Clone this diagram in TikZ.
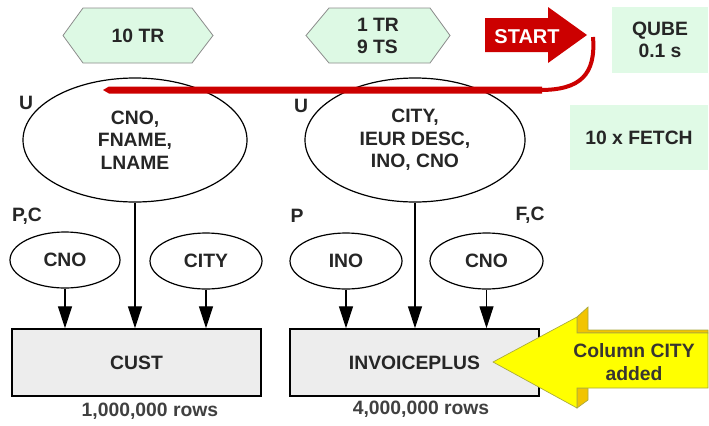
\documentclass[tikz,border=0pt]{standalone}
\usepackage{fontspec}
\setmainfont{Liberation Sans}
\usetikzlibrary{arrows.meta,shapes.geometric}
\definecolor{mint}{HTML}{E0FAE6}
\definecolor{hexg}{HTML}{DDF9E4}
\definecolor{redc}{HTML}{CC0000}
\definecolor{yel}{HTML}{FFFF00}
\definecolor{yelside}{HTML}{F2C400}
\definecolor{yeledge}{HTML}{A8A840}
\begin{document}
\begin{tikzpicture}[x=0.75pt,y=-0.75pt,
  lbl/.style={font=\fontsize{14.5}{17}\selectfont\bfseries, text=black!85},
  oval/.style={ellipse, draw=black, line width=0.9pt, fill=white, inner sep=0pt, lbl, align=center},
  tbl/.style={rectangle, draw=black, line width=1.1pt, fill=black!7, inner sep=0pt, lbl},
  hexshape/.style={fill=hexg, draw=black!45, line width=0.6pt},
  greenbox/.style={rectangle, fill=mint, inner sep=0pt, lbl, align=center},
  arr/.style={-{Triangle[width=10.5pt,length=16.5pt]}, line width=0.9pt}
]
\useasboundingbox[fill=white] (0,0) rectangle (709,425);

% hexagons
\draw[hexshape] (63,35.5) -- (83,8) -- (192,8) -- (213,35.5) -- (192,63) -- (83,63) -- cycle;
\node[lbl] (h1) at (138,36) {10 TR};
\draw[hexshape] (306,35.5) -- (329,8) -- (430,8) -- (450,35.5) -- (430,63) -- (329,63) -- cycle;
\node[lbl, align=left] (h2) at (378,36) {1 TR\\9 TS};

% green boxes
\node[greenbox, minimum width=72pt, minimum height=49.5pt] (qube) at (660,40) {QUBE\\0.1 s};
\node[greenbox, minimum width=103.5pt, minimum height=48.75pt] (fetch) at (639,137.5) {10 x FETCH};

% START arrow
\fill[redc] (485,18) -- (548,18) -- (548,7) -- (587,35) -- (548,63) -- (548,52) -- (485,52) -- cycle;
\node[font=\fontsize{15}{17}\selectfont\bfseries, text=white] (start) at (527,36.5) {START};

% big ellipses
\node[oval, minimum width=168pt, minimum height=93pt] (e1) at (135,140) {CNO,\\FNAME,\\LNAME};
\node[oval, minimum width=165pt, minimum height=93pt] (e2) at (415,140) {CITY,\\IEUR DESC,\\INO, CNO};

% red line
\fill[redc] (103,90) -- (109,86.5) -- (542,86.5) -- (542,93.5) -- (109,93.5) -- cycle;
\draw[redc, line width=3pt] (593,37) .. controls (596,75) and (580,90) .. (540,90);

% labels
\node[lbl] (u1) at (26,103) {U};
\node[lbl] (u2) at (301,106) {U};
\node[lbl] (pc) at (27,216) {P,C};
\node[lbl] (p) at (297,216) {P};
\node[lbl] (fc) at (530,215) {F,C};

% small ellipses
\node[oval, minimum width=82.5pt, minimum height=42pt] (c1) at (65,260) {CNO};
\node[oval, minimum width=84pt, minimum height=42pt] (c2) at (206,261) {CITY};
\node[oval, minimum width=84pt, minimum height=42pt] (c3) at (346,261) {INO};
\node[oval, minimum width=84.75pt, minimum height=42pt] (c4) at (486.5,261) {CNO};

% tables
\node[tbl, minimum width=186.75pt, minimum height=50.25pt] (cust) at (136.5,362.5) {CUST};
\node[tbl, minimum width=186.75pt, minimum height=50.25pt] (inv) at (414.5,362.5) {INVOICEPLUS};
\node[lbl, text=black!75] (r1) at (150,411) {1,000,000 rows};
\node[lbl, text=black!75] (r2) at (421,409) {4,000,000 rows};

% arrows
\draw[arr] (c1.south) -- (c1.south |- cust.north);
\draw[arr] (e1.south) -- (e1.south |- cust.north);
\draw[arr] (c2.south) -- (c2.south |- cust.north);
\draw[arr] (c3.south) -- (c3.south |- inv.north);
\draw[arr] (e2.south) -- (e2.south |- inv.north);
\draw[arr] (c4.south) -- (c4.south |- inv.north);

% yellow 3D arrow
\filldraw[fill=yelside, draw=yeledge, line width=0.5pt] (577,317) -- (588,307) -- (588,330) -- (708,330) -- (708,333) -- (577,333) -- cycle;
\filldraw[fill=yelside, draw=yeledge, line width=0.5pt] (577,388) -- (588,388) -- (588,400) -- (577,408) -- cycle;
\filldraw[fill=yel, draw=yeledge, line width=0.5pt] (493,362) -- (577,317) -- (577,333) -- (708,333) -- (708,388) -- (577,388) -- (577,408) -- cycle;
\node[lbl, text=black!90!yellow, align=center] (ycol) at (634,362) {Column CITY\\added};
\end{tikzpicture}
\end{document}
